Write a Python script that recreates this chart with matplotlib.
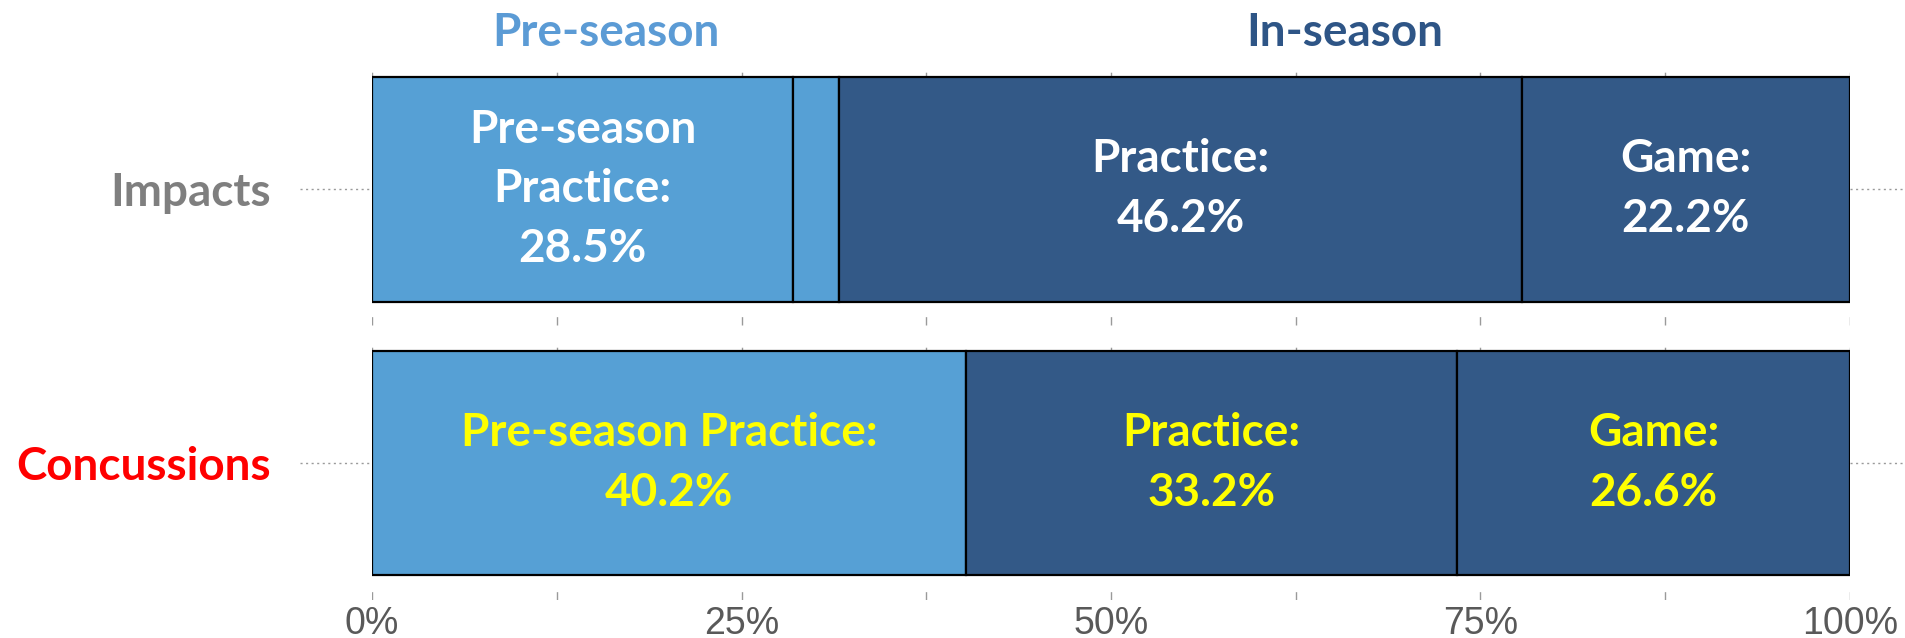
import numpy as np
import matplotlib.pyplot as plt
import matplotlib.transforms as mtransforms

# Data (percent of total)
rows = ['Concussions', 'Impacts']
impacts = [28.5, 3.1, 46.2, 22.2]
impacts_season = ['pre', 'pre', 'in', 'in']
impacts_labels = ['Pre-season\nPractice:\n28.5%', '', 'Practice:\n46.2%', 'Game:\n22.2%']
concussions = [40.2, 33.2, 26.6]
concussions_season = ['pre', 'in', 'in']
concussions_labels = ['Pre-season Practice:\n40.2%', 'Practice:\n33.2%', 'Game:\n26.6%']
xticks = [0, 25, 50, 75, 100]
xtick_labels = ['0%', '25%', '50%', '75%', '100%']

light = '#56A0D5'
dark = '#335987'
colors = {'pre': light, 'in': dark}

fig = plt.figure(figsize=(19.05, 6.38), dpi=100)
ax = fig.add_axes([0.1953, 0.0596, 0.7758, 0.8584])

bold = dict(family=['Lato', 'DejaVu Sans'], weight='bold')


def draw_row(y, values, seasons, labels, txtcolor):
    left = 0
    for v, s, lab in zip(values, seasons, labels):
        ax.barh(y, v, left=left, height=0.82, color=colors[s],
                edgecolor='black', linewidth=1.6, zorder=3)
        if lab:
            ax.text(left + v / 2, y, lab, ha='center', va='center',
                    color=txtcolor, fontsize=33, linespacing=1.52,
                    zorder=4, **bold)
        left += v


draw_row(1, impacts, impacts_season, impacts_labels, 'white')
draw_row(0, concussions, concussions_season, concussions_labels, '#FFFF00')

ax.set_xlim(0, 100)
ax.set_ylim(-0.5, 1.5)

# dashed vertical grid, visible between bars
for xv in np.arange(0, 100.1, 12.5):
    ax.axvline(xv, color='#9a9a9a', linewidth=1.0, linestyle=(0, (6, 16)), zorder=1)

# dotted row guides
ax.hlines([0, 1], -4.9, 105.5, colors='#9a9a9a', linestyles=(0, (1.5, 2.5)),
          linewidth=1.0, clip_on=False, zorder=1)

for sp in ax.spines.values():
    sp.set_visible(False)

ax.set_xticks(xticks)
ax.set_xticklabels(xtick_labels, fontsize=27, color='#595959',
                   family=['Liberation Sans Narrow', 'Liberation Sans'])
ax.tick_params(axis='x', length=0, pad=4)

ax.set_yticks([0, 1])
ax.set_yticklabels(rows, fontsize=33, **bold)
ax.get_yticklabels()[0].set_color('#FF0000')
ax.get_yticklabels()[1].set_color('#7F7F7F')
ax.tick_params(axis='y', length=0, pad=73)

# season headings centred over each season's share of impacts
pre_total = sum(v for v, s in zip(impacts, impacts_season) if s == 'pre')
trans = mtransforms.blended_transform_factory(ax.transData, ax.transAxes)
ax.text(pre_total / 2, 1.035, 'Pre-season', transform=trans, ha='center',
        va='center', fontsize=33, color='#5B9BD5', **bold)
ax.text(pre_total + (100 - pre_total) / 2, 1.035, 'In-season', transform=trans,
        ha='center', va='center', fontsize=33, color='#2E5586', **bold)

fig.savefig('out.png', dpi=100)
